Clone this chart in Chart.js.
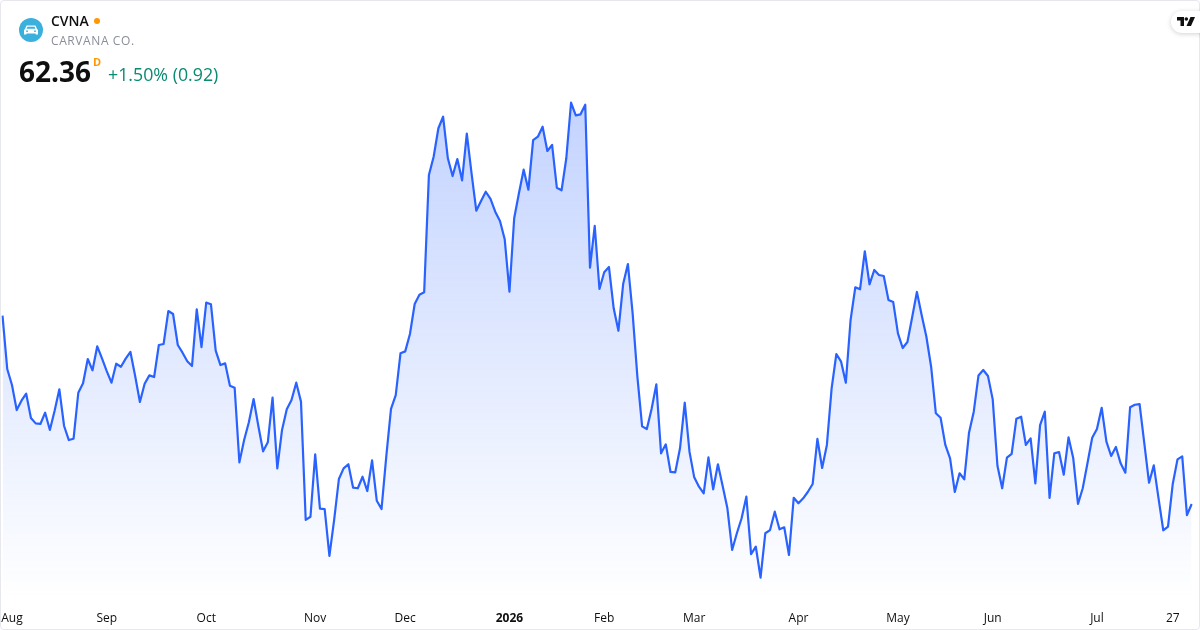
<!DOCTYPE html>
<html><head><meta charset="utf-8">
<script src="https://cdn.jsdelivr.net/npm/chart.js@4"></script>
<style>
html,body{margin:0;padding:0;background:#fff;width:1200px;height:630px;overflow:hidden;font-family:"Open Sans",sans-serif}
#frame{position:absolute;left:0;top:0;width:1198px;height:628px;border:1px solid #e6e8ee;border-radius:4px}
#c{position:absolute;left:0;top:0}
.t{position:absolute;white-space:nowrap}
#logo{position:absolute;left:1171px;top:11px;width:40px;height:22px;background:#fff;border-radius:11px 0 0 11px;box-shadow:0 1px 5px rgba(0,0,0,.18)}
</style></head><body>
<canvas id="c" width="1200" height="630"></canvas>
<div id="frame"></div>
<svg class="t" style="left:19px;top:18px" width="24" height="24" viewBox="0 0 24 24"><circle cx="12" cy="12" r="12" fill="#3bb0dc"/><path d="M6 11l1.500-3.400h9L18 11l1 1v4.600h-2.400v-1.200H7.400v1.200H5V12z" fill="#fff"/><path d="M8.400 8.800h7.200l.9 2H7.500z" fill="#3bb0dc"/><circle cx="8" cy="13.200" r=".9" fill="#3bb0dc"/><circle cx="16" cy="13.200" r=".9" fill="#3bb0dc"/></svg>
<div class="t" style="left:51px;top:12px;font-size:14px;font-weight:600;color:#0f0f0f;line-height:18px">CVNA</div>
<div class="t" style="left:94px;top:18px;width:6px;height:6px;border-radius:50%;background:#ff9800"></div>
<div class="t" style="left:51px;top:32px;font-size:12px;color:#8a8e99;line-height:17px;letter-spacing:.6px">CARVANA CO.</div>
<div class="t" style="left:19px;top:52px;font-size:28px;font-weight:700;color:#0f0f0f;line-height:38px">62.36</div>
<div class="t" style="left:93px;top:54px;font-size:11px;font-weight:700;color:#ff9800;line-height:15px">D</div>
<div class="t" style="left:108px;top:62px;font-size:17.800px;color:#0b8a72;line-height:24px">+1.50% (0.92)</div>
<div id="logo"><svg style="position:absolute;left:6px;top:6px" width="18" height="10" viewBox="0 0 18 10"><path d="M0 0h7v9H3.500V3.500H0z" fill="#0f0f0f"/><circle cx="9.300" cy="2" r="1.800" fill="#0f0f0f"/><path d="M13.500 0H18l-4 9H9.500z" fill="#0f0f0f"/></svg></div>
<script>
const prices = [78.05,73.61,72.28,70.19,70.97,71.55,69.53,69.08,69.03,69.97,68.53,70.14,71.92,68.86,67.69,67.80,71.63,72.42,74.44,73.50,75.50,74.50,73.44,72.47,74.05,73.80,74.47,75.03,73.03,70.86,72.38,73.08,72.94,75.61,75.69,78.44,78.19,75.61,74.97,74.25,73.86,78.58,75.44,79.14,79.00,75.14,73.94,74.08,72.22,72.05,
65.83,67.69,69.17,71.11,68.86,66.75,67.50,71.22,65.33,68.53,70.25,71.03,72.47,70.89,61.03,61.30,66.50,61.97,61.94,58.03,61.03,64.44,65.33,65.67,63.72,63.67,64.63,63.44,66.00,62.63,61.94,66.30,70.28,71.44,74.92,75.08,76.53,79.03,79.80,80.00,
89.78,91.30,93.67,94.63,91.17,89.69,91.11,89.33,93.22,89.92,86.80,87.61,88.38,87.78,86.72,85.94,84.42,80.05,86.17,88.25,90.22,88.55,92.69,92.97,93.80,91.78,92.28,88.72,88.50,91.17,95.80,94.75,94.83,95.63,82.05,85.53,80.28,81.67,82.11,78.67,76.80,80.69,82.36,78.25,72.97,68.83,68.61,70.28,72.33,66.58,
67.33,65.03,65.00,67.00,70.80,66.72,64.58,63.80,63.25,66.25,63.58,65.67,63.86,62.00,58.53,59.92,61.17,62.97,58.19,58.80,56.22,59.92,60.19,61.72,60.25,60.42,58.11,62.88,62.42,62.83,63.38,64.03,67.78,65.36,67.28,72.00,74.86,74.22,72.47,77.69,80.42,80.25,83.42,80.67,81.86,81.44,81.36,79.36,79.19,76.58,
75.36,75.86,77.92,80.03,78.11,76.30,73.80,69.92,69.55,67.28,66.17,63.36,64.92,64.42,68.30,70.05,73.07,73.53,73.03,71.08,65.55,63.67,66.22,66.53,69.47,69.63,67.28,67.83,64.08,68.94,70.05,62.86,66.58,66.69,64.80,67.92,66.17,62.36,63.67,65.75,67.88,68.61,70.38,67.55,66.36,67.11,65.75,64.97,70.42,70.63,
70.69,67.42,64.13,65.58,62.83,60.17,60.47,64.03,66.08,66.33,61.44,62.36];
const tickIndexes = [2,22,43,66,85,107,127,146,168,189,209,231,247];
const tickLabels = ['Aug','Sep','Oct','Nov','Dec','2026','Feb','Mar','Apr','May','Jun','Jul','27'];
const priceMin = 54.36, priceMax = 104.36;

const categories = prices.map((_, i) => {
  const k = tickIndexes.indexOf(i);
  return k >= 0 ? tickLabels[k] : '';
});

const ctx = document.getElementById('c').getContext('2d');
const grad = ctx.createLinearGradient(0, 100, 0, 600);
grad.addColorStop(0, 'rgba(41,98,255,0.28)');
grad.addColorStop(1, 'rgba(41,98,255,0)');

new Chart(ctx, {
  type: 'line',
  data: { labels: categories, datasets: [{
    data: prices, borderColor: '#2962ff', borderWidth: 2.2, backgroundColor: grad,
    fill: 'start', pointRadius: 0, tension: 0, borderJoinStyle: 'round'
  }]},
  options: {
    responsive: false, animation: false, devicePixelRatio: 1,
    layout: { padding: { left: 2.5, right: 8.3, top: 0, bottom: 0 } },
    plugins: { legend: { display: false }, tooltip: { enabled: false } },
    scales: {
      x: {
        offset: false,
        grid: { display: false, drawTicks: false }, border: { display: false },
        afterFit: s => { s.height = 30; s.paddingLeft = 0; s.paddingRight = 0; },
        ticks: {
          autoSkip: false, maxRotation: 0, minRotation: 0, padding: 11, color: '#0f0f0f',
          font: c => ({ family: '"Open Sans"', size: 12, weight: c.tick && c.tick.label === '2026' ? '700' : '400' }),
          callback: function (v) { return this.getLabelForValue(v); }
        }
      },
      y: { display: false, min: priceMin, max: priceMax }
    }
  }
});
</script>
</body></html>
